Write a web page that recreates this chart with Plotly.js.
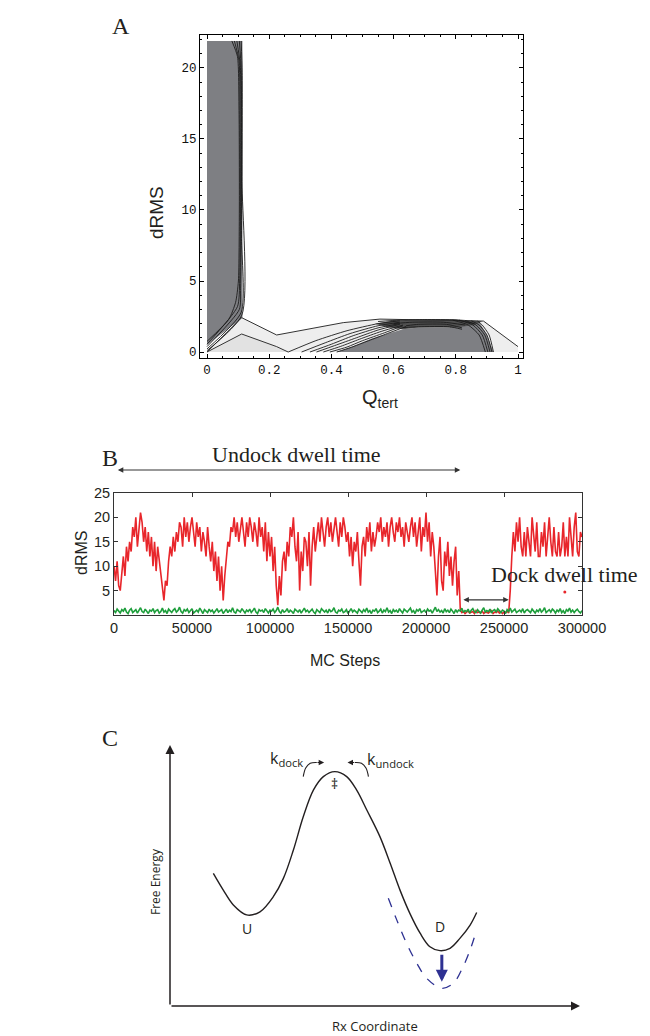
<!DOCTYPE html>
<html><head><meta charset="utf-8">
<script src="https://cdn.plot.ly/plotly-3.0.1.min.js"></script>
<style>html,body{margin:0;padding:0;background:#fff;}#chart{width:650px;height:1036px;}</style>
</head><body><div id="chart"></div>
<script>
// ---------- Panel A : free-energy contour (Q_tert vs dRMS) ----------
const lightRegionX = [0, 0.1115, 0.224, 0.438, 0.556, 0.889, 1.0, 1.0, 0];
const lightRegionY = [0, 2.42, 1.20, 2.07, 2.32, 2.18, 0.38, 0, 0];
const innerRegionX = [0, 0.1115, 0.224, 0.245, 0.261, 0];
const innerRegionY = [0, 1.27, 0.38, 0.18, 0, 0];
const darkLeftX = [0, 0, 0.114, 0.114, 0];
const darkLeftY = [0.5, 21.9, 21.9, 2.42, 0.5];
const darkMidX = [0.417, 0.47, 0.53, 0.58, 0.63, 0.68, 0.78, 0.80, 0.875, 0.90, 0.921, 0.417];
const darkMidY = [0, 0.4, 0.95, 1.3, 1.6, 1.72, 1.72, 2.2, 2.15, 1.2, 0, 0];
const bandX = [0.54, 0.60, 0.70, 0.80, 0.885, 0.86, 0.80, 0.78, 0.68, 0.63, 0.58, 0.54];
const bandY = [2.0, 2.22, 2.31, 2.31, 2.17, 1.9, 1.72, 1.72, 1.72, 1.6, 1.75, 2.0];
const contourLinesA = [
  // left column / diagonal band
  [[0.080,0.098,0.103,0.104,0.101,0.092,0.07,0.0],[21.9,20.8,17,10,5,3.5,2.3,0.75]],
  [[0.088,0.103,0.106,0.107,0.105,0.098,0.0],[21.9,20.5,16,10,5,3.2,0.55]],
  [[0.096,0.107,0.109,0.109,0.108,0.104,0.0],[21.9,20.2,15,9,4.5,3.0,0.38]],
  [[0.104,0.110,0.111,0.111,0.110,0.0],[21.9,19.9,14,8,2.8,0.22]],
  [[0.110,0.113,0.1125,0.112,0.0],[21.9,19.7,12,2.6,0.1]],
  // fan of lines rising toward the docked basin
  [[0.261,0.35,0.45,0.55,0.62],[0,0.8,1.5,2.0,2.2]],
  [[0.304,0.38,0.46,0.55,0.62],[0,0.65,1.3,1.85,2.1]],
  [[0.331,0.40,0.47,0.55,0.62],[0,0.55,1.15,1.7,2.0]],
  [[0.352,0.41,0.48,0.55,0.62],[0,0.45,1.0,1.55,1.95]],
  [[0.374,0.43,0.49,0.56,0.63],[0,0.4,0.9,1.45,1.9]],
  [[0.395,0.45,0.50,0.57,0.63],[0,0.35,0.8,1.35,1.85]],
  [[0.417,0.46,0.52,0.58,0.64],[0,0.3,0.8,1.3,1.8]],
  // band above docked basin
  [[0.55,0.62,0.70,0.80,0.86],[2.15,2.25,2.28,2.25,2.0]],
  [[0.60,0.66,0.76,0.83],[2.0,2.1,2.1,1.9]],
  [[0.64,0.68,0.77,0.82],[1.85,1.95,1.95,1.7]],
  [[0.63,0.68,0.78,0.82],[1.72,1.78,1.78,1.6]],
  // right-hand fan
  [[0.79,0.84,0.875,0.895],[2.25,1.9,1.2,0]],
  [[0.81,0.855,0.885,0.903],[2.25,1.9,1.2,0]],
  [[0.83,0.865,0.893,0.91],[2.22,1.9,1.2,0]],
  [[0.85,0.875,0.90,0.916],[2.2,1.9,1.2,0]],
  [[0.87,0.885,0.907,0.921],[2.18,1.9,1.2,0]]
];

// ---------- Panel B : dRMS vs MC steps (both traces sampled every 1000 MC steps) ----------
const mcStepInterval = 1000;
const redDRMS = [
 10,7,11,6,5,9,12,8,14,11,
 15,13,18,16,20,14,17,21,19,15,
 18,13,17,12,16,10,15,9,14,11,
 8,5,3,7,6,11,14,12,16,13,
 17,15,19,18,14,20,16,19,15,18,
 20,17,14,19,16,18,13,17,15,12,
 18,14,11,15,9,13,7,12,5,10,
 3,8,12,15,14,18,17,20,16,19,
 15,18,20,17,14,19,16,20,18,15,
 19,17,14,20,16,18,13,19,11,17,
 12,16,9,14,6,2,8,4,11,13,
 9,15,12,18,16,20,14,11,17,5,
 13,9,16,15,10,17,6,14,18,13,
 16,19,15,20,17,14,18,20,16,19,
 15,18,20,17,14,19,16,20,18,15,
 17,12,16,10,15,13,17,11,6,14,
 16,12,18,15,19,13,17,14,16,19,
 17,20,15,18,16,19,14,18,20,17,
 15,19,17,20,16,18,14,19,17,15,
 18,20,16,19,14,17,20,13,18,16,
 21,15,19,12,17,14,9,4,12,16,
 7,5,13,10,15,8,12,6,11,14,
 4,9,1,0.5,0.7,0.3,0.6,0.8,0.4,0.5,
 0.7,0.3,0.9,0.5,0.6,0.4,0.8,0.3,0.6,0.5,
 0.4,0.7,0.9,0.3,0.6,0.5,0.8,0.4,0.7,0.3,
 0.6,0.5,0.8,0.4,5,12,17,13,19,15,
 20,14,12,17,12,18,15,12,20,16,
 13,19,12,12,17,14,19,12,16,20,
 15,12,18,13,12,17,12,14,19,12,
 16,12,20,15,12,18,21,13,12,17,
 16
];
const redStrayStep = [289000];
const redStrayDRMS = [4.7];
const greenDRMS = [
 0.9,0.5,1.2,0.7,0.4,1.1,0.8,1.4,0.6,0.3,
 1.0,1.3,0.5,0.8,1.1,0.4,0.9,1.5,0.7,0.5,
 1.2,0.6,0.3,1.0,0.8,1.3,0.5,0.9,1.1,0.4,
 0.7,1.4,0.6,0.9,0.3,1.2,0.8,0.5,1.0,1.3,
 0.6,0.9,1.6,0.7,0.4,1.1,0.8,1.2,0.5,0.9,
 1.3,0.4,0.7,1.0,0.6,1.4,0.9,0.3,1.1,0.8,
 0.5,1.2,0.7,1.0,0.4,0.8,1.3,0.6,0.9,1.1,
 0.3,0.8,1.2,0.5,1.0,0.7,1.5,0.6,0.4,1.1,
 0.9,0.6,1.3,0.8,0.4,1.0,0.7,1.2,0.5,0.9,
 1.4,0.6,0.3,1.1,0.8,1.0,0.5,1.3,0.7,0.4,
 1.0,0.8,1.2,0.5,0.9,1.6,0.7,0.4,1.1,0.6,
 0.8,1.3,0.5,1.0,0.7,0.3,1.2,0.9,0.6,1.1,
 0.4,0.9,1.4,0.7,1.0,0.5,0.8,1.2,0.6,0.3,
 1.1,0.8,0.5,1.3,0.9,0.6,1.0,0.4,1.2,0.7,
 0.9,1.5,0.6,0.4,1.0,0.8,1.2,0.5,0.7,1.1,
 0.3,0.9,1.3,0.6,1.0,0.7,0.4,1.2,0.8,0.5,
 1.1,0.7,1.4,0.6,0.9,0.3,1.0,0.8,1.3,0.5,
 0.8,1.2,0.4,1.0,0.7,1.5,0.6,0.9,0.3,1.1,
 0.7,1.0,0.5,1.3,0.8,0.4,1.2,0.9,0.6,1.0,
 1.4,0.6,0.9,0.3,1.1,0.8,1.3,0.5,0.7,1.0,
 0.5,1.2,0.8,1.0,0.4,0.9,1.6,0.7,1.1,0.6,
 0.9,0.4,1.3,0.7,1.0,0.5,1.2,0.8,0.3,1.1,
 0.6,1.0,0.8,1.4,0.5,0.9,0.7,1.2,0.4,1.0,
 1.3,0.7,0.5,1.1,0.8,0.4,1.0,1.5,0.6,0.9,
 0.7,1.2,0.4,0.9,1.1,0.6,1.3,0.8,0.5,1.0,
 0.8,0.3,1.1,0.7,1.4,0.6,0.9,1.2,0.5,0.8,
 1.0,0.6,1.3,0.4,0.9,1.1,0.7,0.5,1.2,0.8,
 0.4,1.0,0.7,1.3,0.6,0.9,1.5,0.5,0.8,1.1,
 0.6,1.2,0.9,0.4,1.0,0.7,1.3,0.5,0.9,0.3,
 1.1,0.8,1.4,0.6,1.0,0.5,0.9,1.2,0.7,0.4,
 0.9
];
const undockSpan = [1500, 222000];
const dockSpan = [223000, 253000];

// ---------- Panel C : schematic free-energy profile ----------
const rxCoord = [1.057,1.30,1.545,1.87,2.195,2.52,2.765,3.01,3.25,3.50,3.74,4.02,4.31,4.55,4.80,5.12,5.37,5.61,5.85,6.10,6.34,6.585,6.83,7.07,7.32,7.48];
const freeEnergy = [5.08,4.44,3.87,3.49,3.61,4.19,4.89,5.98,7.25,8.28,8.79,8.98,8.79,8.28,7.51,6.49,5.47,4.44,3.55,2.79,2.27,2.12,2.21,2.59,3.10,3.58];
const rxStabilized = [5.325,5.53,5.77,6.02,6.26,6.63,6.91,7.15,7.32,7.44];
const feStabilized = [4.13,3.30,2.40,1.64,1.06,0.68,0.87,1.51,2.15,2.72];
const kDockArcX = [3.25,3.31,3.42,3.58];
const kDockArcY = [8.79,9.12,9.30,9.33];
const kUndockArcX = [4.84,4.78,4.67,4.51];
const kUndockArcY = [8.79,9.12,9.30,9.33];

const traces = [];
function poly(x, y, fill) {
  traces.push({type:'scatter', mode:'lines', x:x, y:y, xaxis:'x', yaxis:'y', fill:'toself', fillcolor:fill, line:{width:0, color:fill}, hoverinfo:'skip'});
}
poly(lightRegionX, lightRegionY, '#eeeeee');
poly(innerRegionX, innerRegionY, '#e2e2e2');
poly(darkLeftX, darkLeftY, '#7e7f83');
poly(darkMidX, darkMidY, '#7e7f83');
poly(bandX, bandY, '#505050');
traces.push({type:'scatter', mode:'lines', x:lightRegionX.slice(0,7), y:lightRegionY.slice(0,7), xaxis:'x', yaxis:'y', line:{color:'#333', width:1}, hoverinfo:'skip'});
traces.push({type:'scatter', mode:'lines', x:innerRegionX.slice(0,5), y:innerRegionY.slice(0,5), xaxis:'x', yaxis:'y', line:{color:'#333', width:1}, hoverinfo:'skip'});
contourLinesA.forEach(function(l){
  traces.push({type:'scatter', mode:'lines', x:l[0], y:l[1], xaxis:'x', yaxis:'y', line:{color:'#1c1c1c', width:0.9, shape:'spline', smoothing:0.6}, hoverinfo:'skip'});
});

const redSteps = redDRMS.map(function(_, i){ return i * mcStepInterval; });
const greenSteps = greenDRMS.map(function(_, i){ return i * mcStepInterval; });
traces.push({type:'scatter', mode:'lines', x:redSteps, y:redDRMS, xaxis:'x2', yaxis:'y2', line:{color:'#e8262b', width:1.6}, hoverinfo:'skip'});
traces.push({type:'scatter', mode:'markers', x:redStrayStep, y:redStrayDRMS, xaxis:'x2', yaxis:'y2', marker:{color:'#e8262b', size:3}, hoverinfo:'skip'});
traces.push({type:'scatter', mode:'lines', x:greenSteps, y:greenDRMS, xaxis:'x2', yaxis:'y2', line:{color:'#1e9e3c', width:1.6}, hoverinfo:'skip'});

traces.push({type:'scatter', mode:'lines', x:rxCoord, y:freeEnergy, xaxis:'x3', yaxis:'y3', line:{color:'#231f20', width:1.4, shape:'spline', smoothing:1}, hoverinfo:'skip'});
traces.push({type:'scatter', mode:'lines', x:rxStabilized, y:feStabilized, xaxis:'x3', yaxis:'y3', line:{color:'#2e3192', width:1.3, dash:'dash', shape:'spline', smoothing:1}, hoverinfo:'skip'});
traces.push({type:'scatter', mode:'lines', x:kDockArcX, y:kDockArcY, xaxis:'x3', yaxis:'y3', line:{color:'#231f20', width:1.1, shape:'spline'}, hoverinfo:'skip'});
traces.push({type:'scatter', mode:'lines', x:kUndockArcX, y:kUndockArcY, xaxis:'x3', yaxis:'y3', line:{color:'#231f20', width:1.1, shape:'spline'}, hoverinfo:'skip'});

const serif = 'Liberation Serif, Times New Roman, serif';
const sans = 'Liberation Sans, Arial, sans-serif';
const myriad = 'Open Sans, Noto Sans, sans-serif';
function pann(text, px, py, size, family, extra) {
  return Object.assign({xref:'paper', yref:'paper', x:px/650, y:1-py/1036, text:text, showarrow:false, xanchor:'center', yanchor:'middle', font:{family:family, size:size, color:'#231f20'}}, extra||{});
}
function arrow(ref, x, y, ax, ay, color, width, side, size) {
  return {xref:'x'+ref, yref:'y'+ref, axref:'x'+ref, ayref:'y'+ref, x:x, y:y, ax:ax, ay:ay, text:'', showarrow:true, arrowhead:2, arrowsize:size||1, arrowwidth:width, arrowcolor:color, arrowside:side||'end', standoff:0, startstandoff:0};
}
function dann(text, x, y, size) {
  return {xref:'x3', yref:'y3', x:x, y:y, text:text, showarrow:false, font:{family:myriad, size:size, color:'#231f20'}};
}

const annotations = [
  pann('A', 121, 26, 24, serif),
  pann('B', 110, 458, 24, serif),
  pann('C', 110, 738, 24, serif),
  pann('dRMS', 157, 213, 19, sans, {textangle:-90}),
  pann('Q<sub>tert</sub>', 380, 398, 20, sans),
  pann('dRMS', 81, 553, 16, sans, {textangle:-90}),
  pann('MC Steps', 345, 660, 16, sans),
  pann('Undock dwell time', 296, 454, 22, serif),
  pann('Dock dwell time', 489, 574, 22, serif, {xanchor:'left'}),
  {xref:'x2', axref:'x2', yref:'paper', ayref:'pixel', x:undockSpan[1], ax:undockSpan[0], y:1-470/1036, ay:0, text:'', showarrow:true, arrowhead:2, arrowsize:1, arrowwidth:1.1, arrowcolor:'#333', arrowside:'end+start', standoff:0, startstandoff:0},
  arrow('2', dockSpan[1], 3.1, dockSpan[0], 3.1, '#333', 1.1, 'end+start', 1),
  arrow('3', 0, 10, 0, 0, '#231f20', 1.5, 'end', 1.2),
  arrow('3', 10, 0, 0, 0, '#231f20', 1.5, 'end', 1.2),
  arrow('3', 6.63, 0.93, 6.63, 2.02, '#2e3192', 3, 'end', 0.8),
  arrow('3', 3.76, 9.33, 3.56, 9.33, '#231f20', 1.1, 'end', 1),
  arrow('3', 4.33, 9.33, 4.53, 9.33, '#231f20', 1.1, 'end', 1),
  dann('U', 1.87, 2.98, 14),
  dann('D', 6.585, 3.04, 14),
  dann('\u2021', 4.02, 8.53, 14),
  dann('k<sub>dock</sub>', 2.85, 9.49, 16),
  dann('k<sub>undock</sub>', 5.38, 9.45, 16),
  pann('Free Energy', 155, 882, 12, myriad, {textangle:-90}),
  pann('Rx Coordinate', 375, 1026, 13, myriad)
];

const frameA = {showline:true, linecolor:'#000', linewidth:1, mirror:'ticks', ticks:'inside', ticklen:4, tickcolor:'#000', showgrid:false, zeroline:false, tickfont:{family:'Liberation Mono, Courier New, monospace', size:12.5, color:'#111'}};
const frameB = {showline:true, linecolor:'#333', linewidth:1, mirror:'ticks', ticks:'inside', ticklen:4, tickcolor:'#333', showgrid:false, zeroline:false, tickfont:{family:sans, size:14.5, color:'#231f20'}};

const layout = {
  width:650, height:1036, margin:{l:0, r:0, t:0, b:0},
  paper_bgcolor:'#fff', plot_bgcolor:'rgba(0,0,0,0)', showlegend:false,
  xaxis: Object.assign({}, frameA, {domain:[200/650, 523/650], range:[-0.0225, 1.016], anchor:'y', tick0:0, dtick:0.2,
    minor:{ticks:'inside', ticklen:2, tick0:0, dtick:0.05, tickcolor:'#000', showgrid:false}}),
  yaxis: Object.assign({}, frameA, {domain:[1-358/1036, 1-35/1036], range:[-0.42, 22.32], anchor:'x', tick0:0, dtick:5,
    minor:{ticks:'inside', ticklen:2, tick0:0, dtick:1, tickcolor:'#000', showgrid:false}}),
  xaxis2: Object.assign({}, frameB, {domain:[114/650, 582/650], range:[0, 300000], anchor:'y2', tick0:0, dtick:50000, tickformat:'d'}),
  yaxis2: Object.assign({}, frameB, {domain:[1-615/1036, 1-493/1036], range:[0, 25], anchor:'x2', tickvals:[5,10,15,20,25]}),
  xaxis3: {domain:[170/650, 580/650], range:[0, 10], anchor:'y3', visible:false},
  yaxis3: {domain:[1-1006/1036, 1-745/1036], range:[0, 10], anchor:'x3', visible:false},
  annotations: annotations
};

Plotly.newPlot('chart', traces, layout, {staticPlot:true, displayModeBar:false});
</script>
</body></html>
